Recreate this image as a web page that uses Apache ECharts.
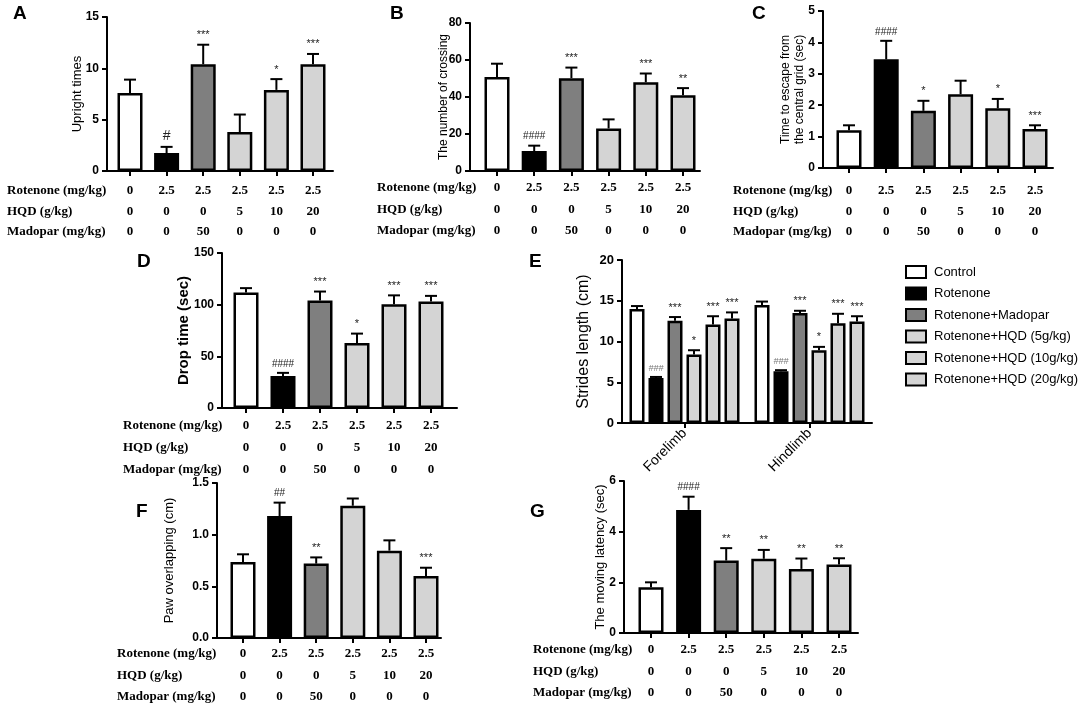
<!DOCTYPE html>
<html>
<head>
<meta charset="utf-8">
<script src="https://cdn.jsdelivr.net/npm/echarts@6/dist/echarts.min.js"></script>
<style>
  html, body { margin: 0; padding: 0; background: #fff; }
  #chart { width: 1084px; height: 709px; }
</style>
</head>
<body>
<div id="chart"></div>
<script>
// treatment table (same for every panel)
const rotenone = ["0", "2.5", "2.5", "2.5", "2.5", "2.5"];
const hqd = ["0", "0", "0", "5", "10", "20"];
const madopar = ["0", "0", "50", "0", "0", "0"];
const rowNames = ["Rotenone (mg/kg)", "HQD (g/kg)", "Madopar (mg/kg)"];

const groupNames = ["Control", "Rotenone", "Rotenone+Madopar", "Rotenone+HQD (5g/kg)", "Rotenone+HQD (10g/kg)", "Rotenone+HQD (20g/kg)"];
const groupColors = ["#ffffff", "#000000", "#7f7f7f", "#d4d4d4", "#d4d4d4", "#d4d4d4"];

// A - upright times
const uprightMean = [7.6, 1.75, 10.4, 3.8, 7.9, 10.4];
const uprightUpper = [8.9, 2.35, 12.3, 5.5, 8.95, 11.4];
const uprightSig = ["", "#", "***", "", "*", "***"];

// B - number of crossing
const crossingMean = [50.8, 10.8, 50.2, 23, 48, 41];
const crossingUpper = [58, 13.7, 55.9, 27.9, 52.7, 44.8];
const crossingSig = ["", "####", "***", "", "***", "**"];

// C - escape time
const escapeMean = [1.2, 3.46, 1.82, 2.35, 1.9, 1.24];
const escapeUpper = [1.36, 4.05, 2.14, 2.78, 2.2, 1.36];
const escapeSig = ["", "####", "*", "", "*", "***"];

// D - drop time
const dropMean = [111.8, 31, 104, 63, 100.4, 103];
const dropUpper = [116, 34, 112.7, 72, 109, 108.5];
const dropSig = ["", "####", "***", "*", "***", "***"];

// E - strides length
const limbs = ["Forelimb", "Hindlimb"];
const foreMean = [14.0, 5.53, 12.54, 8.4, 12.1, 12.83];
const foreUpper = [14.35, 5.65, 13.0, 8.93, 13.1, 13.57];
const foreSig = ["", "###", "***", "*", "***", "***"];
const hindMean = [14.47, 6.35, 13.5, 8.93, 12.25, 12.45];
const hindUpper = [14.9, 6.48, 13.77, 9.34, 13.4, 13.1];
const hindSig = ["", "###", "***", "*", "***", "***"];

// F - paw overlapping
const pawMean = [0.735, 1.18, 0.72, 1.28, 0.845, 0.6];
const pawUpper = [0.81, 1.31, 0.78, 1.35, 0.945, 0.68];
const pawSig = ["", "##", "**", "", "", "***"];

// G - moving latency
const latencyMean = [1.81, 4.86, 2.86, 2.93, 2.53, 2.7];
const latencyUpper = [2.0, 5.38, 3.35, 3.28, 2.94, 2.95];
const latencySig = ["", "####", "**", "**", "**", "**"];

const black = "#000";
const sans = "Liberation Sans";
const serif = "Liberation Serif";

// panel layouts: axis x, axis end, top, zero line, first bar centre, step
const panels = [
  { letter: "A", lx: 13, ly: 4, mean: uprightMean, upper: uprightUpper, sig: uprightSig, x0: 107, x1: 333, top: 17, bottom: 171, c0: 130, step: 36.6, max: 15, interval: 5, name: "Upright times", nameGap: 23, nameSize: 13, nameBold: false, tableX: 7, rows: [191, 212, 232], rowH: 20.5 },
  { letter: "B", lx: 390, ly: 4, mean: crossingMean, upper: crossingUpper, sig: crossingSig, x0: 470, x1: 700, top: 23, bottom: 171, c0: 497, step: 37.2, max: 80, interval: 20, name: "The number of crossing", nameGap: 19, nameSize: 12, nameBold: false, tableX: 377, rows: [188, 210, 231], rowH: 21.5 },
  { letter: "C", lx: 752, ly: 4, mean: escapeMean, upper: escapeUpper, sig: escapeSig, x0: 823, x1: 1053, top: 11, bottom: 168, c0: 849, step: 37.2, max: 5, interval: 1, name: "Time to escape from\nthe central grid (sec)", nameGap: 16, nameSize: 12, nameBold: false, tableX: 733, rows: [191, 212, 232], rowH: 20.5 },
  { letter: "D", lx: 137, ly: 252, mean: dropMean, upper: dropUpper, sig: dropSig, x0: 222, x1: 457, top: 253, bottom: 408, c0: 246, step: 37, max: 150, interval: 50, name: "Drop time (sec)", nameGap: 31, nameSize: 15, nameBold: true, tableX: 123, rows: [426, 448, 470], rowH: 22 },
  { letter: "F", lx: 136, ly: 502, mean: pawMean, upper: pawUpper, sig: pawSig, x0: 217, x1: 441, top: 483, bottom: 638, c0: 243, step: 36.6, max: 1.5, interval: 0.5, name: "Paw overlapping (cm)", nameGap: 41, nameSize: 13, nameBold: false, tableX: 117, rows: [654, 676, 697], rowH: 21.5, decimals: 1 },
  { letter: "G", lx: 530, ly: 502, mean: latencyMean, upper: latencyUpper, sig: latencySig, x0: 624, x1: 858, top: 481, bottom: 633, c0: 651, step: 37.6, max: 6, interval: 2, name: "The moving latency (sec)", nameGap: 17, nameSize: 13, nameBold: false, tableX: 533, rows: [650, 672, 693], rowH: 21.5 }
];

const idx = [0, 1, 2, 3, 4, 5];

function sigFont(s) {
  if (s.charAt(0) === "#") return (s.length === 1 ? "14px " : "10px ") + sans;
  return "11px " + sans;
}

function errorChildren(mx, my, ux, uy, s, sigStyle) {
  const out = [
    { type: "line", shape: { x1: mx, y1: my, x2: ux, y2: uy }, style: { stroke: black, lineWidth: 2 } },
    { type: "line", shape: { x1: ux - 6, y1: uy, x2: ux + 6, y2: uy }, style: { stroke: black, lineWidth: 2 } }
  ];
  if (s) {
    out.push({
      type: "text", x: ux, y: uy - 4,
      style: Object.assign({ text: s, textAlign: "center", textVerticalAlign: "bottom", font: sigFont(s), fill: "#222" }, sigStyle || {})
    });
  }
  return out;
}

const grid = [], xAxis = [], yAxis = [], series = [], graphic = [];

panels.forEach((p, k) => {
  grid.push({ left: p.x0, top: p.top, width: p.x1 - p.x0, height: p.bottom - p.top });
  const min = -(p.c0 - p.x0) / p.step;
  const max = 5 + (p.x1 - (p.c0 + 5 * p.step)) / p.step;
  xAxis.push({
    gridIndex: k, type: "value", min: min, max: max,
    splitLine: { show: false },
    axisLine: { show: true, onZero: false, lineStyle: { color: black, width: 2 } },
    axisTick: { show: true, customValues: idx, length: 5, lineStyle: { color: black, width: 2 } },
    axisLabel: {
      customValues: idx,
      formatter: v => rotenone[v] + "\n" + hqd[v] + "\n" + madopar[v],
      fontFamily: serif, fontWeight: "bold", fontSize: 13, color: black,
      lineHeight: p.rowH, margin: p.rows[0] - p.bottom - p.rowH / 2
    }
  });
  yAxis.push({
    gridIndex: k, type: "value", min: 0, max: p.max, interval: p.interval,
    splitLine: { show: false },
    axisLine: { show: true, onZero: false, lineStyle: { color: black, width: 2 } },
    axisTick: { show: true, length: 5, lineStyle: { color: black, width: 2 } },
    axisLabel: {
      fontFamily: sans, fontWeight: "bold", fontSize: 12, color: black, margin: 8,
      formatter: v => p.decimals ? v.toFixed(p.decimals) : String(v)
    },
    name: p.name, nameLocation: "middle", nameGap: p.nameGap, nameMoveOverlap: false,
    nameTextStyle: { fontFamily: sans, fontSize: p.nameSize, fontWeight: p.nameBold ? "bold" : "normal", color: black, lineHeight: 14 }
  });
  series.push({
    type: "bar", xAxisIndex: k, yAxisIndex: k, barWidth: 25,
    data: p.mean.map((v, i) => ({ value: [i, v], itemStyle: { color: groupColors[i] } })),
    itemStyle: { borderColor: black, borderWidth: 2.5 },
    silent: true
  });
  series.push({
    type: "custom", xAxisIndex: k, yAxisIndex: k, z: 5, silent: true,
    data: p.mean.map((v, i) => [i, v, p.upper[i]]),
    encode: { x: 0, y: [1, 2] },
    renderItem: (params, api) => {
      const m = api.coord([api.value(0), api.value(1)]);
      const u = api.coord([api.value(0), api.value(2)]);
      return { type: "group", children: errorChildren(m[0], m[1], u[0], u[1], p.sig[params.dataIndex]) };
    }
  });
  graphic.push({ type: "text", left: p.lx, top: p.ly, style: { text: p.letter, font: "bold 19px " + sans, fill: black } });
  rowNames.forEach((r, j) => {
    graphic.push({ type: "text", x: p.tableX, y: p.rows[j], style: { text: r, font: "bold 13px " + serif, fill: black, textVerticalAlign: "middle" } });
  });
});

// panel E: grouped bars on a category axis
const ek = panels.length;
grid.push({ left: 622, top: 260, width: 250, height: 163 });
xAxis.push({
  gridIndex: ek, type: "category", data: limbs,
  axisLine: { show: true, lineStyle: { color: black, width: 2 } },
  axisTick: { show: true, alignWithLabel: true, length: 5, lineStyle: { color: black, width: 2 } },
  axisLabel: { rotate: 45, fontFamily: sans, fontSize: 14, color: black, margin: 8 }
});
yAxis.push({
  gridIndex: ek, type: "value", min: 0, max: 20, interval: 5,
  splitLine: { show: false },
  axisLine: { show: true, lineStyle: { color: black, width: 2 } },
  axisTick: { show: true, length: 5, lineStyle: { color: black, width: 2 } },
  axisLabel: { fontFamily: sans, fontWeight: "bold", fontSize: 13, color: black, margin: 8 },
  name: "Strides length (cm)", nameLocation: "middle", nameGap: 30, nameMoveOverlap: false,
  nameTextStyle: { fontFamily: sans, fontSize: 16, color: black }
});
const eBarW = 15, eGap = 4;
groupNames.forEach((g, i) => {
  series.push({
    type: "bar", name: g, xAxisIndex: ek, yAxisIndex: ek, barWidth: eBarW, barGap: (eGap / eBarW * 100) + "%",
    data: [foreMean[i], hindMean[i]],
    itemStyle: { color: groupColors[i], borderColor: black, borderWidth: 2.5 },
    silent: true
  });
});
const eMeans = [foreMean, hindMean], eUppers = [foreUpper, hindUpper], eSigs = [foreSig, hindSig];
const eData = [];
[0, 1].forEach(c => idx.forEach(i => eData.push([c, eMeans[c][i], eUppers[c][i], i])));
series.push({
  type: "custom", xAxisIndex: ek, yAxisIndex: ek, z: 5, silent: true,
  data: eData, encode: { x: 0, y: [1, 2] },
  renderItem: (params, api) => {
    const c = api.value(0), i = api.value(3);
    const total = 6 * eBarW + 5 * eGap;
    const off = -total / 2 + i * (eBarW + eGap) + eBarW / 2;
    const m = api.coord([c, api.value(1)]);
    const u = api.coord([c, api.value(2)]);
    const s = eSigs[c][i];
    const extra = s.charAt(0) === "#" ? { font: "italic 9px " + sans, fill: "#777" } : null;
    return { type: "group", children: errorChildren(m[0] + off, m[1], u[0] + off, u[1], s, extra) };
  }
});
graphic.push({ type: "text", left: 529, top: 252, style: { text: "E", font: "bold 19px " + sans, fill: black } });

const chart = echarts.init(document.getElementById("chart"));
chart.setOption({
  animation: false,
  backgroundColor: "#fff",
  grid: grid,
  xAxis: xAxis,
  yAxis: yAxis,
  legend: {
    data: groupNames, orient: "vertical", left: 905, top: 265, padding: 0,
    itemWidth: 20, itemHeight: 12, itemGap: 7.5, icon: "rect",
    selectedMode: false,
    textStyle: { fontFamily: sans, fontSize: 13, color: black, padding: [0, 0, 0, 3] }
  },
  graphic: graphic,
  series: series
});
</script>
</body>
</html>
